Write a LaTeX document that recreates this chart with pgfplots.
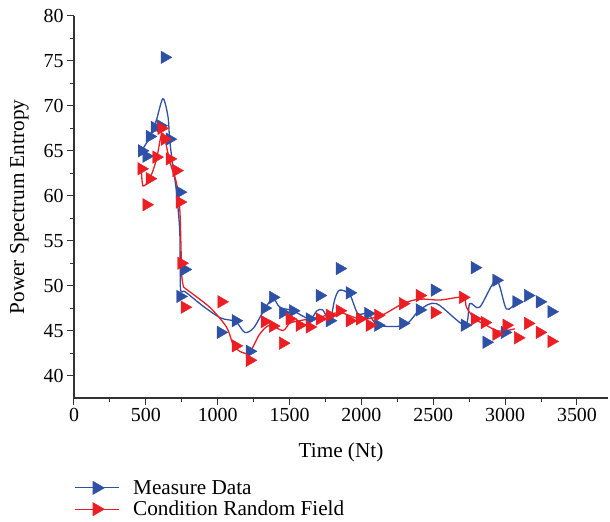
\documentclass[border=0pt]{standalone}
\usepackage{fontspec}
\setmainfont{Liberation Serif}
\usepackage{pgfplots}
\pgfplotsset{compat=1.18}
\definecolor{mblue}{RGB}{46,80,165}
\definecolor{mred}{RGB}{235,30,36}
\begin{document}
\begin{tikzpicture}
\begin{axis}[
 at={(0,0)}, anchor=south west,
 scale only axis, width=534bp, height=382bp,
 xmin=0, xmax=3716, ymin=37.5, ymax=80,
 axis x line*=bottom, axis y line*=left,
 axis line style={line width=1.2bp, color=black!80},
 xtick={0,500,...,3500}, ytick={40,45,...,80},
 minor x tick num=1, minor y tick num=1,
 tick align=outside, major tick length=7bp, minor tick length=4bp,
 every tick/.style={line width=1bp, black!80},
 tick label style={font=\fontsize{20}{24}\selectfont},
 label style={font=\fontsize{21.3}{24}\selectfont},
 xlabel style={yshift=-14bp},
 ylabel style={yshift=8bp},
 /pgf/number format/assume math mode=true,
 /pgf/number format/1000 sep={},
 xlabel={Time (Nt)}, ylabel={Power Spectrum Entropy},
 legend style={at={(0,0)}, anchor=north west, yshift=-80bp, draw=none, fill=none,
   font=\fontsize{21.3}{24}\selectfont, inner sep=0pt, row sep=1.5bp,
   cells={anchor=west}},
 legend cell align=left,
 legend image code/.code={\draw[#1, mark repeat=2, mark phase=2] plot coordinates {(0bp,0bp) (22bp,0bp) (44bp,0bp)}; \path (56bp,0bp);},
]
% smooth curves
\addplot[mblue, line width=1.3bp, smooth, tension=0.5, forget plot] coordinates {
(458,64.7) (527,66.5) (573,68.4) (619,70.8) (654,68.8) (666,66.2) (689,63.2) (712,60.6) (736,56) (740,50) (752,49.3) (775,49.3) (900,47.7) (1021,46.4) (1125,46.0) (1188,44.8) (1250,45.3) (1327,47.4) (1385,48.6) (1432,47.6) (1524,47.2) (1640,46.3) (1690,47.2) (1731,47.3) (1780,46.1) (1815,48.5) (1849,49.5) (1919,49.0) (1975,46.9) (2047,46.9) (2116,45.6) (2300,45.6) (2406,47.3) (2522,48.0) (2719,45.6) (2754,48.0) (2823,47.6) (2939,50.6) (3009,47.4) (3078,48.2)
};
\addplot[mred, line width=1.3bp, smooth, tension=0.5, forget plot] coordinates {
(469,63.0) (480,61.1) (527,61.9) (573,64.0) (608,66.8) (631,66.5) (650,65.0) (678,63.2) (712,61.5) (736,58.5) (745,54) (748,51.5) (760,50.0) (782,49.6) (944,47.6) (1061,45.4) (1109,43.4) (1165,42.6) (1223,42.6) (1292,44.6) (1362,45.6) (1454,45.0) (1500,45.8) (1570,46.1) (1710,46.5) (1849,47.0) (1989,46.3) (2127,46.6) (2289,48.0) (2406,48.5) (2545,48.4) (2707,48.7) (2731,47.6) (2789,46.3) (2858,45.7) (2939,45.0) (3009,45.0) (3067,45.2)
};
% markers
\addplot[only marks, mark=triangle*, mark size=7.2bp, mark options={rotate=-90, fill=mblue, draw=mblue}, forget plot] coordinates {
(472,65.0) (504,64.4) (527,66.6) (562,67.6) (601,67.8) (631,75.4) (666,66.3) (736,60.4) (740,48.8) (770,51.8) (1021,44.8) (1125,46.1) (1223,42.7) (1327,47.5) (1385,48.7) (1454,47.0) (1524,47.2) (1640,46.3) (1710,48.9) (1780,46.1) (1849,51.9) (1919,49.2) (2047,46.9) (2116,45.6) (2289,45.8) (2406,47.3) (2510,49.5) (2719,45.6) (2789,52.0) (2870,43.7) (2939,50.6) (2997,44.8) (3078,48.2) (3159,48.9) (3241,48.2) (3322,47.1)
};
\addplot[only marks, mark=triangle*, mark size=7.2bp, mark options={rotate=-90, fill=mred, draw=mred}, forget plot] coordinates {
(469,63.0) (504,59.0) (527,61.9) (573,64.3) (608,67.5) (631,66.3) (666,64.1) (712,62.8) (736,59.3) (747,52.5) (770,47.6) (1026,48.2) (1125,43.3) (1223,41.7) (1327,46.0) (1385,45.5) (1454,43.6) (1500,46.3) (1570,45.6) (1640,45.4) (1710,46.3) (1780,46.7) (1849,47.2) (1919,46.1) (1989,46.3) (2058,45.6) (2116,46.7) (2289,48.0) (2406,48.9) (2510,47.0) (2707,48.7) (2789,46.3) (2858,45.9) (2939,44.6) (3009,45.6) (3090,44.2) (3159,45.8) (3241,44.8) (3322,43.8)
};
\addlegendimage{mblue, line width=1bp, mark=triangle*, mark size=7.2bp, mark options={rotate=-90, fill=mblue, draw=mblue}}
\addlegendentry{Measure Data}
\addlegendimage{mred, line width=1bp, mark=triangle*, mark size=7.2bp, mark options={rotate=-90, fill=mred, draw=mred}}
\addlegendentry{Condition Random Field}
\end{axis}
\pgfresetboundingbox
\path (-74bp,-124bp) rectangle (536bp,398bp);
\end{tikzpicture}
\end{document}
